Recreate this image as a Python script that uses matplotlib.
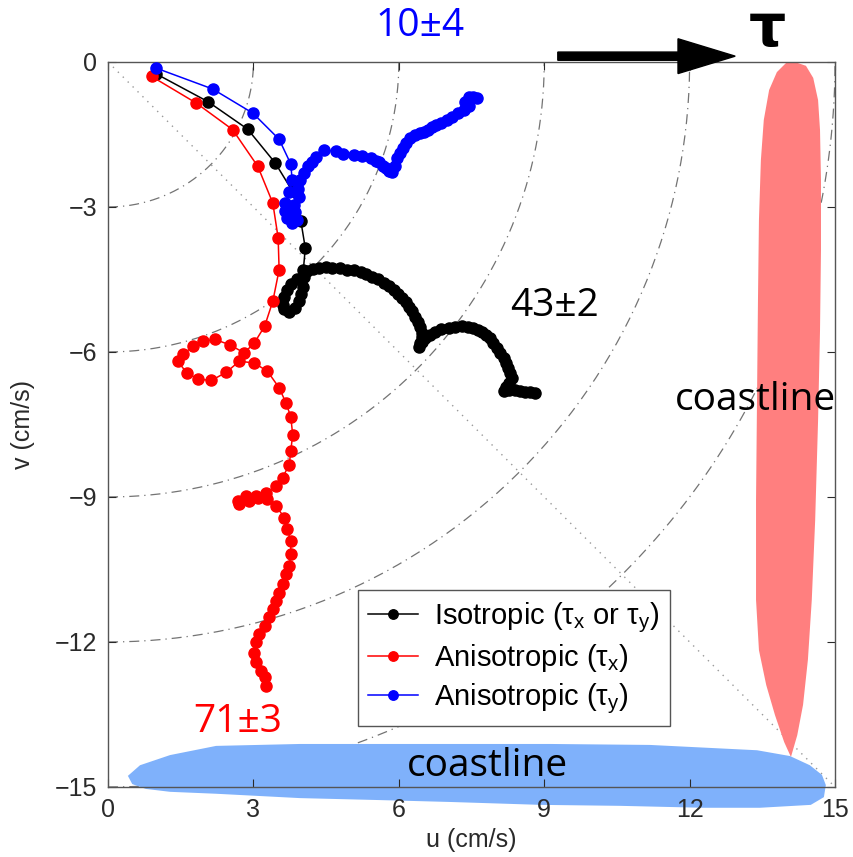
import numpy as np
import matplotlib
matplotlib.use('Agg')
import matplotlib.pyplot as plt
from matplotlib.patches import Polygon

plt.rcParams['font.family'] = ['Liberation Sans', 'DejaVu Sans']
plt.rcParams['mathtext.fontset'] = 'custom'
plt.rcParams['mathtext.rm'] = 'Liberation Sans'
plt.rcParams['mathtext.it'] = 'Liberation Sans:italic'
plt.rcParams['mathtext.default'] = 'regular'

# spiral hodographs, u and v in cm/s
iso_u = [1.00, 2.06, 2.88, 3.45, 3.81, 3.98, 4.07, 4.03, 3.90, 3.78, 3.70, 3.64, 3.60, 3.64, 3.74,
         3.86, 3.93, 3.98, 4.02, 4.05, 4.10, 4.22, 4.36, 4.50, 4.62, 4.78, 4.94, 5.08, 5.21, 5.33,
         5.45, 5.57, 5.69, 5.80, 5.90, 5.99, 6.07, 6.14, 6.21, 6.28, 6.34, 6.40, 6.44, 6.47, 6.48,
         6.44, 6.41, 6.47, 6.55, 6.65, 6.75, 6.88, 7.03, 7.16, 7.30, 7.42, 7.54, 7.63, 7.71, 7.80,
         7.88, 7.95, 8.02, 8.09, 8.16, 8.21, 8.26, 8.30, 8.33, 8.28, 8.22, 8.16, 8.28, 8.40, 8.50,
         8.60, 8.70, 8.81]
iso_v = [-0.25, -0.82, -1.39, -2.09, -2.68, -3.30, -3.85, -4.30, -4.48, -4.60, -4.72, -4.87, -5.02, -5.12, -5.17,
         -5.10, -4.95, -4.80, -4.65, -4.45, -4.32, -4.28, -4.26, -4.25, -4.26, -4.27, -4.30, -4.31, -4.34, -4.39,
         -4.44, -4.50, -4.57, -4.64, -4.72, -4.80, -4.89, -4.97, -5.06, -5.16, -5.27, -5.37, -5.48, -5.60, -5.70,
         -5.82, -5.90, -5.80, -5.72, -5.64, -5.58, -5.53, -5.50, -5.48, -5.47, -5.48, -5.51, -5.54, -5.58, -5.65,
         -5.72, -5.82, -5.92, -6.02, -6.12, -6.22, -6.33, -6.44, -6.54, -6.64, -6.72, -6.80, -6.79, -6.79, -6.80,
         -6.82, -6.83, -6.85]

anx_u = [0.90, 1.82, 2.57, 3.09, 3.40, 3.51, 3.53, 3.40, 3.23, 3.02, 2.81, 2.51, 2.20, 1.96, 1.75,
         1.55, 1.44, 1.62, 1.86, 2.13, 2.44, 2.71, 3.02, 3.29, 3.53, 3.67, 3.77, 3.81, 3.77, 3.74,
         3.60, 3.47, 3.26, 3.05, 2.85, 2.68, 2.70, 2.90, 3.10, 3.29, 3.47, 3.64, 3.70, 3.77, 3.77,
         3.74, 3.67, 3.60, 3.53, 3.47, 3.40, 3.33, 3.23, 3.12, 3.05, 3.02, 3.05, 3.16, 3.23, 3.25]
anx_v = [-0.30, -0.85, -1.40, -2.16, -2.92, -3.64, -4.30, -4.95, -5.47, -5.81, -6.02, -5.85, -5.74, -5.78, -5.88,
         -6.05, -6.19, -6.43, -6.56, -6.59, -6.42, -6.19, -6.23, -6.40, -6.74, -7.05, -7.34, -7.71, -8.05, -8.33,
         -8.60, -8.77, -8.91, -8.98, -8.98, -9.08, -9.15, -9.08, -9.02, -9.05, -9.19, -9.43, -9.67, -9.91, -10.19,
         -10.43, -10.60, -10.81, -10.98, -11.15, -11.32, -11.49, -11.67, -11.84, -12.01, -12.22, -12.42, -12.60, -12.73, -12.91]

any_u = [1.00, 2.16, 2.99, 3.53, 3.77, 3.80, 3.74, 3.66, 3.65, 3.69, 3.79, 3.89, 3.86, 3.84, 3.93,
         3.92, 3.97, 4.05, 4.12, 4.20, 4.29, 4.46, 4.70, 4.84, 5.07, 5.25, 5.42, 5.52, 5.59, 5.67,
         5.73, 5.80, 5.86, 5.93, 5.96, 6.03, 6.08, 6.14, 6.24, 6.34, 6.43, 6.51, 6.60, 6.68, 6.77,
         6.86, 6.99, 7.10, 7.23, 7.34, 7.44, 7.37, 7.44, 7.54, 7.61]
any_v = [-0.13, -0.56, -1.06, -1.60, -2.11, -2.45, -2.70, -2.92, -3.08, -3.22, -3.34, -3.27, -3.10, -2.95, -2.80,
         -2.62, -2.44, -2.30, -2.16, -2.06, -1.97, -1.82, -1.85, -1.91, -1.92, -1.94, -1.99, -2.04, -2.08, -2.15,
         -2.20, -2.25, -2.27, -2.16, -1.99, -1.89, -1.78, -1.68, -1.58, -1.51, -1.47, -1.44, -1.40, -1.35, -1.31,
         -1.27, -1.20, -1.13, -1.06, -0.99, -0.92, -0.82, -0.72, -0.72, -0.75]

labels = ['Isotropic ($\\tau_x$ or $\\tau_y$)', 'Anisotropic ($\\tau_x$)', 'Anisotropic ($\\tau_y$)']
ticks = [0, 3, 6, 9, 12, 15]
yticks = [0, -3, -6, -9, -12, -15]
radii = [3, 6, 9, 12, 15]

# hand drawn coastline outlines (u, v)
east_u = [14.17, 14.40, 14.55, 14.65, 14.69, 14.71, 14.71, 14.69, 14.65, 14.59, 14.52, 14.44, 14.34, 14.22,
          14.09, 13.95, 13.76, 13.58, 13.43, 13.37, 13.37, 13.39, 13.41, 13.43, 13.47, 13.53, 13.64, 13.80, 13.99]
east_v = [0.0, -0.08, -0.33, -0.79, -1.41, -2.44, -3.89, -5.55, -7.41, -9.48, -11.13, -12.37, -13.30, -13.93,
          -14.38, -14.07, -13.51, -12.89, -12.17, -11.13, -9.06, -6.99, -4.92, -3.27, -2.03, -1.20, -0.58, -0.21, -0.02]
south_u = [0.41, 0.66, 1.28, 2.23, 3.96, 6.71, 9.12, 11.18, 13.39, 14.07, 14.48, 14.73, 14.81, 14.77,
           14.50, 13.45, 12.28, 10.56, 8.93, 7.06, 5.57, 3.96, 2.23, 1.28, 0.78, 0.50]
south_v = [-14.77, -14.55, -14.34, -14.15, -14.11, -14.11, -14.11, -14.13, -14.24, -14.36, -14.55, -14.75, -14.96, -15.21,
           -15.37, -15.43, -15.43, -15.39, -15.37, -15.31, -15.27, -15.23, -15.14, -15.10, -15.04, -14.94]

fig = plt.figure(figsize=(8.54, 8.57), dpi=100)
ax = fig.add_axes([0.1265, 0.0817, 0.8513, 0.846])

'polar style guide lines'
th = np.linspace(-np.pi/2, 0, 200)
for r in radii:
    ax.plot(r*np.cos(th), r*np.sin(th), color='0.45', lw=0.9, ls=(0, (8, 4, 1, 4)), zorder=0.5)
ax.plot([0, 15], [0, -15], color='0.6', lw=1.0, ls=(0, (1, 4)), zorder=0.5)

'coastlines'
ax.add_patch(Polygon(np.column_stack([east_u, east_v]), closed=True, fc='#ff7f7f', ec='none',
                     zorder=1, clip_on=False))
ax.add_patch(Polygon(np.column_stack([south_u, south_v]), closed=True, fc='#7fb1fb', ec='none',
                     zorder=1, clip_on=False))

'hodographs'
kw = dict(marker='o', ms=8, lw=1.1, zorder=3)
ax.plot(iso_u, iso_v, color='k', label=labels[0], **kw)
ax.plot(anx_u, anx_v, color='r', label=labels[1], **kw)
ax.plot(any_u, any_v, color='b', label=labels[2], **kw)

ax.set_xlim(0, 15)
ax.set_ylim(-15, 0)
ax.set_xticks(ticks)
ax.set_yticks(yticks)
ax.tick_params(direction='in', top=True, right=True, length=6, width=0.8,
               labelsize=18, colors='#2a2a2a', pad=8)
for s in ax.spines.values():
    s.set_color('#555555')
    s.set_linewidth(1.0)
ax.set_xlabel('u (cm/s)', fontsize=18, color='#2a2a2a', labelpad=4)
ax.set_ylabel('v (cm/s)', fontsize=18, color='#2a2a2a', labelpad=14)

leg = ax.legend(loc='upper left', bbox_to_anchor=(0.344, 0.272), borderaxespad=0,
                fontsize=21, fancybox=False, framealpha=1, edgecolor='#555555',
                handlelength=1.7, handletextpad=0.55, labelspacing=0.25, borderpad=0.35,
                markerscale=0.85)
leg.get_frame().set_linewidth(1.0)
leg.set_zorder(4)

'annotations'
tf = ['Open Sans', 'DejaVu Sans']
ax.text(6.44, 0.74, '10\u00b14', color='b', fontsize=28, family=tf, ha='center', va='center')
ax.text(9.22, -5.05, '43\u00b12', color='k', fontsize=28, family=tf, ha='center', va='center', zorder=5)
ax.text(2.68, -13.66, '71\u00b13', color='r', fontsize=28, family=tf, ha='center', va='center', zorder=5)
ax.text(13.35, -7.0, 'coastline', color='k', fontsize=28, family=tf, ha='center', va='center', zorder=5)
ax.text(7.82, -14.57, 'coastline', color='k', fontsize=28, family=tf, ha='center', va='center', zorder=5)
ax.text(13.6, 0.33, '\u03c4', color='k', fontsize=42, fontweight='bold', family=['DejaVu Sans'],
        ha='center', va='baseline')
ax.arrow(9.28, 0.12, 3.66, 0, width=0.17, head_width=0.72, head_length=1.18,
         length_includes_head=True, color='k', clip_on=False, zorder=5)

fig.savefig('out.png', dpi=100)
